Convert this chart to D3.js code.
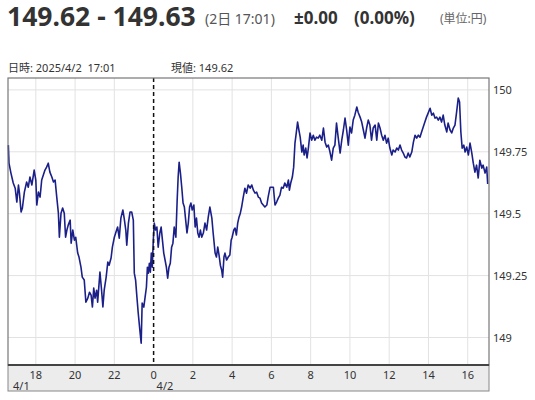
<!DOCTYPE html>
<html>
<head>
<meta charset="utf-8">
<script src="https://cdn.jsdelivr.net/npm/d3@7"></script>
<style>
  body { margin: 0; background: #fff; }
  text { font-family: "Noto Sans", "Noto Sans CJK JP", sans-serif; }
</style>
</head>
<body>
<div id="chart"></div>
<script>
// USD/JPY intraday, 4/1 evening to 4/2 17:01
var day1Times = ["16:36","16:38","16:44","16:51","16:57","17:02","17:07","17:10","17:15","17:19",
  "17:25","17:32","17:37","17:42","17:48","17:55","18:00","18:03","18:08","18:13",
  "18:18","18:23","18:28","18:33","18:38","18:43","18:49","18:54","18:59","19:04",
  "19:09","19:12","19:17","19:22","19:27","19:31","19:35","19:39","19:45","19:48",
  "19:53","19:58","20:02","20:08","20:12","20:18","20:22","20:28","20:33","20:39",
  "20:44","20:49","20:53","20:57","21:01","21:06","21:09","21:16","21:21","21:25",
  "21:29","21:35","21:40","21:44","21:50","21:54","22:00","22:05","22:10","22:15",
  "22:20","22:26","22:30","22:35","22:38","22:43","22:48","22:53","22:58","23:01",
  "23:05","23:09","23:13","23:18","23:22","23:25","23:30","23:34","23:38","23:41",
  "23:44","23:47","23:50","23:53","23:56","23:59"];
var day1Prices = [149.777,149.704,149.664,149.624,149.603,149.547,149.616,149.583,149.507,149.523,
  149.587,149.628,149.607,149.648,149.616,149.676,149.636,149.535,149.587,149.567,
  149.636,149.656,149.676,149.688,149.704,149.668,149.648,149.628,149.636,149.567,
  149.502,149.405,149.502,149.523,149.502,149.405,149.434,149.454,149.474,149.381,
  149.434,149.393,149.405,149.341,149.325,149.284,149.244,149.232,149.143,149.159,
  149.183,149.171,149.123,149.200,149.159,149.191,149.143,149.264,149.191,149.123,
  149.191,149.244,149.305,149.292,149.321,149.365,149.405,149.426,149.446,149.401,
  149.482,149.515,149.482,149.434,149.373,149.462,149.507,149.507,149.474,149.260,
  149.232,149.163,149.099,149.030,148.977,149.139,149.123,149.163,149.203,149.284,
  149.260,149.300,149.264,149.341,149.284,149.393];

var day2Times = ["00:02","00:06","00:10","00:14","00:19","00:23","00:27","00:31","00:35","00:39",
  "00:43","00:47","00:51","00:55","00:59","01:03","01:08","01:12","01:15","01:18",
  "01:22","01:26","01:30","01:34","01:38","01:42","01:46","01:50","01:54","01:58",
  "02:03","02:07","02:11","02:15","02:19","02:23","02:27","02:32","02:37","02:42",
  "02:47","02:52","02:58","03:02","03:08","03:12","03:16","03:20","03:24","03:28",
  "03:31","03:35","03:38","03:43","03:48","03:53","03:57","04:00","04:05","04:09",
  "04:13","04:17","04:21","04:25","04:29","04:34","04:39","04:44","04:49","04:55",
  "05:00","05:05","05:10","05:15","05:20","05:25","05:30","05:35","05:40","05:46",
  "05:50","05:56","06:06","06:11","06:16","06:21","06:26","06:31","06:36","06:41",
  "06:47","06:52","06:55","06:59","07:04","07:08","07:12","07:16","07:20","07:24",
  "07:28","07:33","07:37","07:40","07:45","07:49","07:53","07:58","08:03","08:08",
  "08:13","08:18","08:23","08:28","08:34","08:39","08:44","08:49","08:54","08:59",
  "09:04","09:09","09:14","09:19","09:24","09:30","09:35","09:40","09:45","09:50",
  "09:55","10:00","10:05","10:10","10:15","10:21","10:25","10:31","10:36","10:41",
  "10:46","10:51","10:56","11:01","11:06","11:11","11:17","11:22","11:27","11:32",
  "11:37","11:42","11:47","11:52","11:57","12:02","12:08","12:12","12:18","12:23",
  "12:28","12:33","12:38","12:43","12:48","12:53","12:58","13:03","13:09","13:14",
  "13:19","13:24","13:29","13:34","13:39","13:44","13:49","13:54","13:59","14:05",
  "14:10","14:15","14:20","14:25","14:30","14:35","14:40","14:45","14:50","14:56",
  "15:00","15:06","15:11","15:16","15:21","15:26","15:31","15:35","15:39","15:43",
  "15:48","15:52","15:57","16:02","16:07","16:12","16:17","16:22","16:27","16:32",
  "16:37","16:43","16:47","16:53","16:58","17:01"];
var day2Prices = [149.462,149.434,149.446,149.365,149.422,149.446,149.393,149.341,149.313,149.284,
  149.240,149.284,149.300,149.365,149.381,149.446,149.405,149.555,149.648,149.708,
  149.664,149.607,149.543,149.527,149.474,149.422,149.462,149.527,149.543,149.515,
  149.535,149.446,149.482,149.422,149.405,149.434,149.405,149.422,149.462,149.434,
  149.486,149.527,149.482,149.422,149.341,149.325,149.365,149.333,149.292,149.272,
  149.244,149.325,149.341,149.313,149.325,149.333,149.393,149.405,149.434,149.442,
  149.414,149.462,149.486,149.502,149.527,149.567,149.603,149.583,149.616,149.603,
  149.616,149.595,149.583,149.587,149.567,149.563,149.543,149.535,149.527,149.535,
  149.567,149.607,149.607,149.535,149.547,149.563,149.575,149.607,149.603,149.624,
  149.607,149.636,149.595,149.624,149.648,149.688,149.785,149.826,149.870,149.838,
  149.809,149.749,149.777,149.737,149.765,149.725,149.765,149.826,149.797,149.817,
  149.797,149.809,149.805,149.817,149.797,149.846,149.789,149.769,149.777,149.749,
  149.716,149.765,149.777,149.866,149.809,149.745,149.797,149.838,149.886,149.838,
  149.777,149.850,149.826,149.878,149.898,149.931,149.910,149.890,149.870,149.838,
  149.805,149.846,149.878,149.858,149.797,149.846,149.858,149.797,149.866,149.846,
  149.817,149.797,149.817,149.785,149.805,149.765,149.737,149.757,149.749,149.765,
  149.757,149.777,149.757,149.745,149.729,149.725,149.745,149.729,149.749,149.789,
  149.817,149.805,149.817,149.809,149.830,149.850,149.870,149.890,149.906,149.926,
  149.898,149.906,149.886,149.890,149.878,149.890,149.870,149.898,149.858,149.830,
  149.866,149.838,149.826,149.846,149.858,149.910,149.967,149.951,149.830,149.765,
  149.777,149.749,149.769,149.737,149.785,149.749,149.704,149.668,149.696,149.644,
  149.716,149.684,149.696,149.664,149.688,149.620];

var hourTicks = [18, 20, 22, 0, 2, 4, 6, 8, 10, 12, 14, 16];
var dateLabels = ["4/1", "4/2"];
var priceTicks = [149, 149.25, 149.5, 149.75, 150];

var parseTime = d3.timeParse("%Y-%m-%d %H:%M");

var data = [];
day1Times.forEach(function(t, i) {
  data.push({ date: parseTime("2025-04-01 " + t), price: day1Prices[i] });
});
day2Times.forEach(function(t, i) {
  data.push({ date: parseTime("2025-04-02 " + t), price: day2Prices[i] });
});

var W = 535, H = 400;
var plotLeft = 8, plotRight = 489, plotTop = 78, plotBottom = 365, bandBottom = 391;

var svg = d3.select("#chart").append("svg")
  .attr("width", W)
  .attr("height", H);

var x = d3.scaleTime()
  .domain([parseTime("2025-04-01 16:35"), parseTime("2025-04-02 17:05")])
  .range([plotLeft, plotRight]);

var y = d3.scaleLinear()
  .domain([148.889, 150.048])
  .range([plotBottom, plotTop]);

var midnight = parseTime("2025-04-02 00:00");
function tickDate(h) {
  return h >= 17 ? parseTime("2025-04-01 " + h + ":00")
                 : parseTime("2025-04-02 " + (h < 10 ? "0" + h : h) + ":00");
}

// header
var head = svg.append("g");
head.append("text").attr("x", 7).attr("y", 26)
  .style("font-size", "26.5px").style("font-weight", "bold").attr("fill", "#333")
  .text("149.62 - 149.63");
head.append("text").attr("x", 205).attr("y", 24)
  .style("font-size", "14px").attr("fill", "#555")
  .text("(2日 17:01)");
head.append("text").attr("x", 294).attr("y", 24)
  .style("font-size", "17px").style("font-weight", "bold").attr("fill", "#333")
  .text("±0.00");
head.append("text").attr("x", 354).attr("y", 24)
  .style("font-size", "17px").style("font-weight", "bold").attr("fill", "#333")
  .text("(0.00%)");
head.append("text").attr("x", 440).attr("y", 23)
  .style("font-size", "12px").attr("fill", "#666")
  .text("(単位:円)");

svg.append("text").attr("x", 8).attr("y", 72)
  .style("font-size", "11px").style("white-space", "pre").attr("fill", "#333")
  .text("日時: 2025/4/2  17:01");
svg.append("text").attr("x", 171).attr("y", 72)
  .style("font-size", "11px").attr("fill", "#333")
  .text("現値: 149.62");

// grid
svg.append("g")
  .selectAll("line")
  .data(priceTicks)
  .enter().append("line")
  .attr("x1", plotLeft).attr("x2", plotRight)
  .attr("y1", function(d) { return y(d); })
  .attr("y2", function(d) { return y(d); })
  .attr("stroke", "#e2e2e2");

svg.append("g")
  .selectAll("line")
  .data(hourTicks.filter(function(h) { return h !== 0; }))
  .enter().append("line")
  .attr("x1", function(d) { return x(tickDate(d)); })
  .attr("x2", function(d) { return x(tickDate(d)); })
  .attr("y1", plotTop).attr("y2", plotBottom)
  .attr("stroke", "#e2e2e2");

// price line
var valueline = d3.line()
  .x(function(d) { return x(d.date); })
  .y(function(d) { return y(d.price); });

svg.append("path")
  .datum(data)
  .attr("fill", "none")
  .attr("stroke", "#1b2088")
  .attr("stroke-width", 1.6)
  .attr("stroke-linejoin", "round")
  .attr("d", valueline);

// date change line
svg.append("line")
  .attr("x1", x(midnight)).attr("x2", x(midnight))
  .attr("y1", plotTop).attr("y2", plotBottom)
  .attr("stroke", "#111")
  .attr("stroke-width", 1.5)
  .attr("stroke-dasharray", "4,3");

// frame
svg.append("rect")
  .attr("x", plotLeft).attr("y", plotTop)
  .attr("width", plotRight - plotLeft).attr("height", plotBottom - plotTop)
  .attr("fill", "none").attr("stroke", "#777").attr("stroke-width", 1.2);

// x axis band
svg.append("rect")
  .attr("x", plotLeft).attr("y", plotBottom)
  .attr("width", plotRight - plotLeft).attr("height", bandBottom - plotBottom)
  .attr("fill", "#ececec").attr("stroke", "#888").attr("stroke-width", 1);
svg.append("line")
  .attr("x1", plotLeft).attr("x2", plotRight)
  .attr("y1", plotBottom).attr("y2", plotBottom)
  .attr("stroke", "#444").attr("stroke-width", 1.8);

svg.append("g")
  .selectAll("text")
  .data(hourTicks)
  .enter().append("text")
  .attr("x", function(d) { return x(tickDate(d)); })
  .attr("y", 379)
  .attr("text-anchor", "middle")
  .style("font-size", "11px").attr("fill", "#333")
  .text(function(d) { return d; });

svg.append("text").attr("x", 13).attr("y", 390)
  .style("font-size", "11px").attr("fill", "#333").text(dateLabels[0]);
svg.append("text").attr("x", x(midnight) + 3).attr("y", 390)
  .style("font-size", "11px").attr("fill", "#333").text(dateLabels[1]);

// y labels on the right
svg.append("g")
  .selectAll("text")
  .data(priceTicks)
  .enter().append("text")
  .attr("x", plotRight + 4)
  .attr("y", function(d) { return y(d) + 4; })
  .style("font-size", "11px").attr("fill", "#333")
  .text(function(d) { return d; });
</script>
</body>
</html>
